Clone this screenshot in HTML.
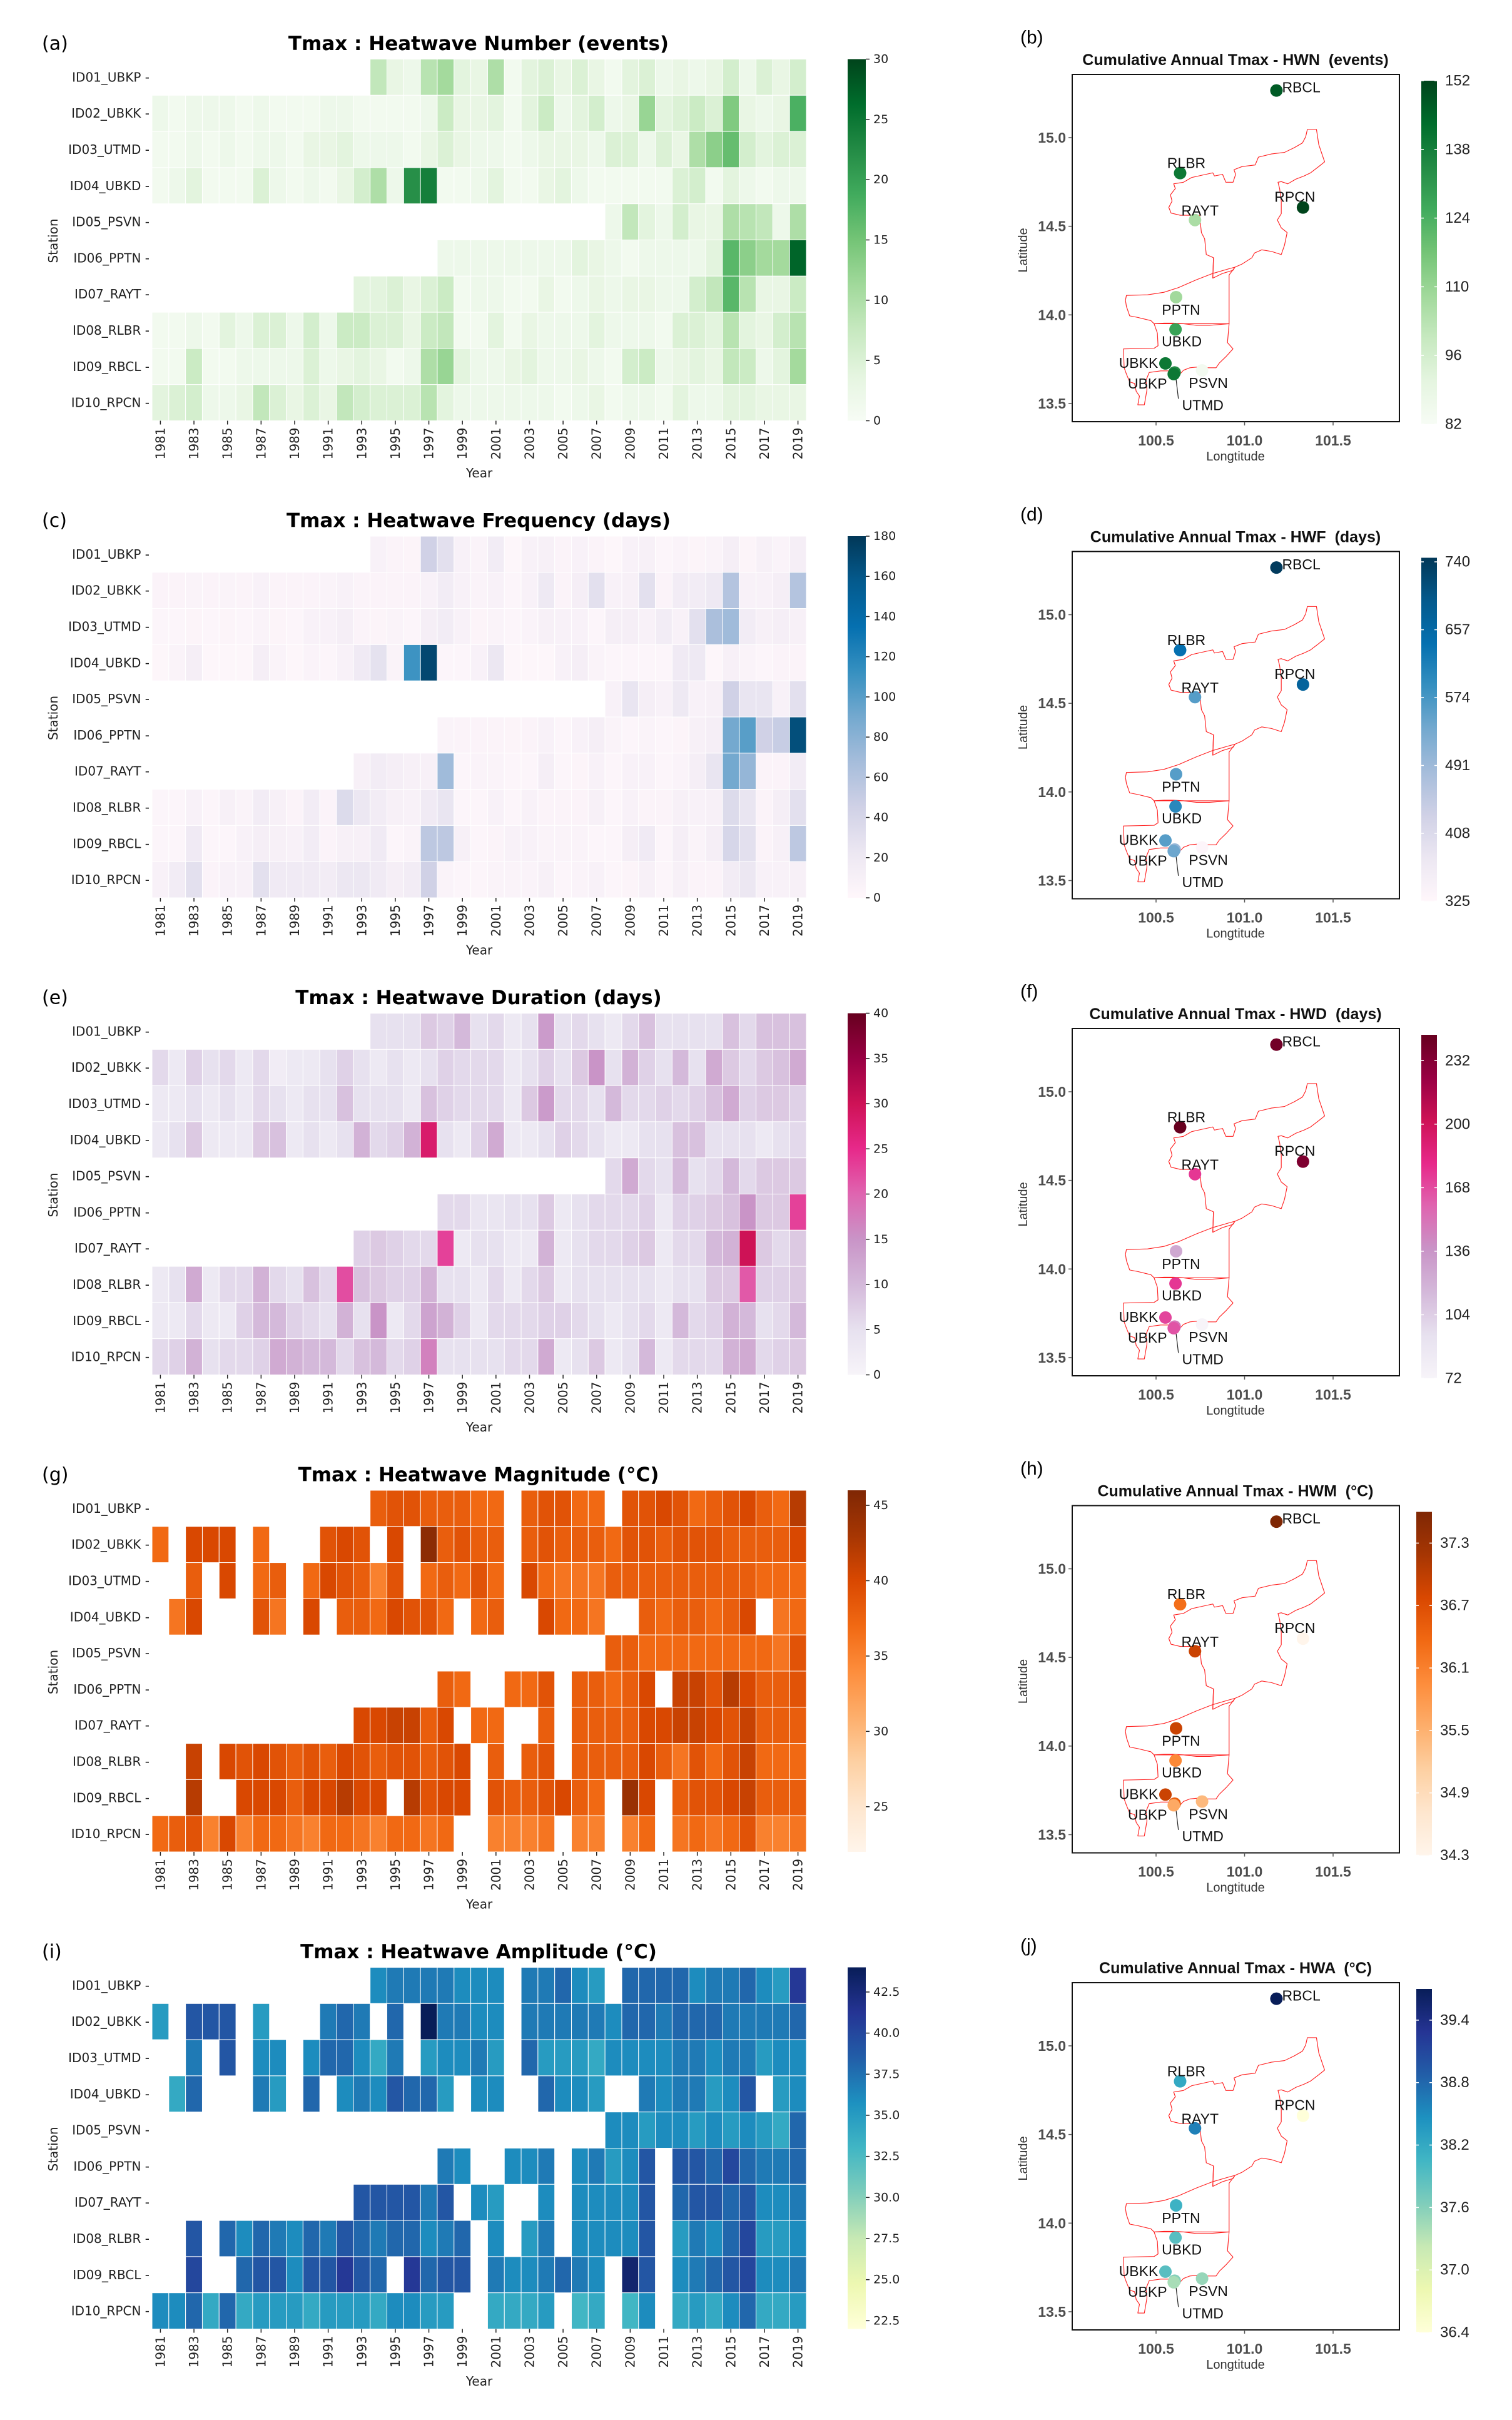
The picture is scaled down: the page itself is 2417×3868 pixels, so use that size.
<!DOCTYPE html>
<html><head><meta charset="utf-8"><title>Tmax heatwave indices</title>
<style>
html,body{margin:0;padding:0;background:#fff;}
svg{display:block;}
.dj{font-family:"DejaVu Sans","Liberation Sans",sans-serif;}
.ar{font-family:"Liberation Sans",Arial,sans-serif;}
.pre{white-space:pre;}
</style></head>
<body>
<svg id="fig" xmlns="http://www.w3.org/2000/svg" width="2417" height="3868" viewBox="0 0 2417 3868">
<defs id="defs"></defs>
</svg>
<script>
const n = null;
const years = [1981,1982,1983,1984,1985,1986,1987,1988,1989,1990,1991,1992,1993,1994,1995,1996,1997,1998,1999,2000,2001,2002,2003,2004,2005,2006,2007,2008,2009,2010,2011,2012,2013,2014,2015,2016,2017,2018,2019];
const stations = ['ID01_UBKP','ID02_UBKK','ID03_UTMD','ID04_UBKD','ID05_PSVN','ID06_PPTN','ID07_RAYT','ID08_RLBR','ID09_RBCL','ID10_RPCN'];
const N13=[n,n,n,n,n,n,n,n,n,n,n,n,n];
const N12=[n,n,n,n,n,n,n,n,n,n,n,n];
const N17=[n,n,n,n,n,n,n,n,n,n,n,n,n,n,n,n,n];
const N27=[n,n,n,n,n,n,n,n,n,n,n,n,n,n,n,n,n,n,n,n,n,n,n,n,n,n,n];

// (a) Heatwave Number (events)
const hwnRows = [
 N13.concat([8,3,2,9,11,4,3,10,1,4,5,3,5,3,1,4,5,2,3,2,3,6,2,5,3,6]),
 [2,1,2,2,2,1,2,1,1,1,2,2,1,1,1,1,2,7,3,3,4,1,4,7,2,4,6,2,3,12,4,5,7,5,14,3,2,3,18],
 [1,1,2,1,2,1,2,2,1,3,3,4,2,2,2,1,3,5,3,2,2,1,2,3,3,3,2,5,5,2,5,3,10,13,16,6,4,5,5],
 [1,2,4,1,1,1,5,2,1,2,1,3,6,10,2,22,24,1,1,2,4,1,1,3,4,2,1,1,1,1,1,5,6,1,4,2,1,2,2],
 N27.concat([2,8,4,2,6,3,3,10,9,8,2,10]),
 N17.concat([2,2,2,2,2,2,2,2,4,3,2,1,2,2,2,2,4,17,13,11,11,27]),
 N12.concat([4,4,5,3,5,7,1,2,2,1,1,3,1,2,3,2,3,3,2,2,6,8,17,9,3,3,7]),
 [1,1,2,1,4,2,5,5,2,6,2,7,7,5,5,3,7,8,1,1,4,1,3,2,2,2,4,2,2,2,1,5,5,4,9,4,3,6,9],
 [1,1,7,1,1,2,2,2,2,5,2,3,4,3,1,2,10,12,4,2,2,3,4,2,2,3,2,1,6,7,2,3,4,3,8,7,2,4,11],
 [4,5,6,2,2,3,8,5,3,5,3,8,6,5,5,5,9,4,2,2,2,2,2,2,1,2,3,1,2,2,1,4,2,2,4,4,3,3,3]
];
// (c) Heatwave Frequency (days)
const hwfRows = [
 N13.concat([8,5,4,45,30,8,6,15,2,8,10,5,8,5,2,8,10,3,6,4,6,12,4,10,6,12]),
 [5,5,6,5,6,5,8,5,5,5,6,8,5,5,5,5,8,15,8,6,8,3,8,20,5,12,30,8,10,30,5,15,15,20,60,8,8,12,60],
 [3,3,4,3,4,3,6,4,3,8,8,12,5,4,6,3,12,15,8,4,6,3,6,10,8,8,3,12,12,8,15,8,30,65,70,15,10,12,10],
 [2,6,12,2,2,2,12,6,2,6,3,8,18,28,6,110,170,3,3,8,22,2,2,2,8,12,6,3,3,3,3,18,20,2,10,6,3,5,5],
 N27.concat([8,25,12,8,20,8,10,45,25,25,8,30]),
 N17.concat([6,5,5,5,4,5,8,3,8,12,6,3,6,3,4,10,12,90,100,45,50,165]),
 N12.concat([10,15,12,10,10,70,3,6,6,3,3,12,3,4,8,3,8,8,3,6,12,25,90,75,5,5,15]),
 [3,3,8,3,10,6,15,10,5,15,5,35,22,15,10,8,18,25,3,3,8,3,8,5,5,5,10,3,8,5,5,10,8,10,35,25,5,12,30],
 [3,3,18,3,3,8,12,10,8,15,5,10,10,18,3,6,55,55,10,3,5,8,8,6,6,6,3,3,12,18,3,12,6,12,40,30,5,10,55],
 [8,15,30,5,8,8,30,18,18,18,15,22,22,18,12,15,45,6,3,3,6,6,6,10,3,6,8,3,4,10,3,10,5,5,15,22,8,8,10]
];
// (e) Heatwave Duration (days)
const hwdRows = [
 N13.concat([5,5,5,8,7,10,5,6,3,5,14,5,6,5,3,6,9,5,5,5,5,9,6,9,9,9]),
 [6,3,7,5,6,3,6,2,3,3,5,7,5,3,5,3,5,7,6,6,6,3,5,7,5,8,15,5,11,7,5,10,5,12,8,6,8,9,12],
 [3,3,5,3,5,3,6,5,3,5,5,9,5,5,5,3,9,7,6,6,6,3,8,14,6,6,5,10,6,6,7,6,7,9,12,7,8,8,7],
 [3,5,8,3,3,3,8,9,3,5,3,5,11,6,7,11,28,5,3,7,12,3,3,5,7,6,5,3,3,5,5,9,9,5,5,5,3,5,6],
 N27.concat([6,12,6,5,10,5,6,10,6,8,8,8]),
 N17.concat([6,6,4,4,5,5,8,3,5,6,6,6,7,3,7,7,8,9,15,8,8,23]),
 N12.concat([7,8,7,6,6,23,3,5,5,3,3,11,3,5,6,6,7,8,3,6,6,10,11,30,8,6,8]),
 [3,5,12,3,6,6,11,6,5,9,6,22,9,8,7,7,11,5,5,3,6,3,6,8,3,5,5,5,5,5,3,5,5,8,8,21,7,7,8],
 [3,3,6,3,3,7,10,10,7,6,5,11,5,15,3,6,13,11,7,3,6,6,6,7,7,6,5,3,5,6,3,10,6,7,11,10,5,6,10],
 [6,7,11,5,6,6,7,12,11,10,10,6,9,10,6,7,17,5,5,5,5,6,6,12,3,5,8,3,5,10,3,6,6,6,11,12,6,7,8]
];
// (g) Heatwave Magnitude (°C)
const hwmRows = [
 N13.concat([38,39,39,38,38,38,37,37,n,38,39,39,37,37,n,39,39,40,39,37,38,39,40,38,37,42]),
 [37,n,40,40,40,n,37,n,n,n,39,40,39,n,40,n,45,38,39,38,38,n,38,39,38,38,38,37,39,39,38,39,39,39,38,38,38,38,40],
 [n,n,38,n,40,n,37,38,n,37,40,39,38,35,39,n,37,38,37,39,37,n,40,37,36,36,36,38,38,38,38,38,38,38,38,38,37,37,37],
 [n,36,40,n,n,n,39,36,n,40,n,38,38,37,40,39,39,37,n,37,38,n,n,40,37,37,36,n,n,38,37,38,38,37,38,40,n,36,37],
 N27.concat([38,38,37,37,37,37,37,37,37,37,36,39]),
 N17.concat([38,37,n,n,37,37,39,n,38,38,37,38,40,n,41,41,39,42,40,38,38,39]),
 N12.concat([40,40,41,41,38,40,n,37,37,n,n,38,n,38,38,38,38,40,40,41,41,40,39,41,38,38,38]),
 [n,n,41,n,40,39,40,39,38,39,38,40,39,38,39,39,38,39,40,n,38,n,38,39,n,38,38,38,38,40,38,36,39,37,39,41,37,37,37],
 [n,n,42,n,n,40,40,40,38,40,40,42,40,40,n,42,39,40,40,n,39,38,38,39,40,38,37,n,44,40,n,38,39,39,40,41,38,38,38],
 [37,38,39,35,40,35,37,37,36,35,37,37,36,35,37,37,36,37,n,n,35,35,35,36,n,35,35,n,35,37,n,36,37,36,37,39,35,35,36]
];
// (i) Heatwave Amplitude (°C)
const hwaRows = [
 N13.concat([36,37,37,37,37,36,36,36,n,37,37,38,36,35,n,38,38,38,38,36,37,37,38,36,35,41]),
 [35,n,39,39,39,n,35,n,n,n,37,38,37,n,38,n,44,37,37,36,36,n,37,37,37,37,37,36,38,38,37,38,38,38,37,37,37,37,38],
 [n,n,37,n,39,n,36,36,n,36,38,38,36,34,37,n,35,36,36,37,35,n,38,35,35,35,34,36,36,36,36,37,37,36,37,37,35,36,36],
 [n,34,38,n,n,n,37,35,n,38,n,36,37,36,39,38,38,35,n,36,36,n,n,38,36,36,35,n,n,37,36,37,37,35,36,39,n,35,36],
 N27.concat([36,36,35,36,36,35,36,35,36,35,34,38]),
 N17.concat([37,36,n,n,36,36,37,n,36,37,35,36,39,n,39,39,38,40,38,37,37,38]),
 N12.concat([39,39,39,39,37,39,n,36,35,n,n,36,n,36,36,36,36,39,n,38,39,39,38,39,36,36,37]),
 [n,n,39,n,38,36,38,37,36,38,37,39,38,37,38,38,36,37,38,n,36,n,35,37,n,36,36,36,36,39,n,35,37,36,38,40,35,35,36],
 [n,n,40,n,n,38,39,39,36,39,39,41,39,38,n,41,38,39,39,n,37,36,36,37,38,37,36,n,43,39,n,36,37,38,39,40,36,36,37],
 [36,36,38,34,38,34,35,35,35,34,35,35,35,34,36,36,35,35,n,n,34,34,34,35,n,33,34,n,33,36,n,34,35,34,36,38,34,34,35]
];
const ticksA = [0,5,10,15,20,25,30];
const ticksC = [0,20,40,60,80,100,120,140,160,180];
const ticksE = [0,5,10,15,20,25,30,35,40];
const ticksG = [25,30,35,40,45];
const ticksI = [22.5,25.0,27.5,30.0,32.5,35.0,37.5,40.0,42.5];

// Maps
const mapStations = ['UTMD','RBCL','RLBR','RPCN','RAYT','PPTN','UBKD','UBKK','PSVN','UBKP'];
const mapLon = [100.605,101.18,100.636,101.33,100.72,100.613,100.61,100.553,100.76,100.60];
const mapLat = [13.675,15.266,14.80,14.606,14.535,14.10,13.918,13.726,13.687,13.666];
const mapHWN = [135,147,140,152,106,108,128,140,84,140];
const mapHWF = [500,740,640,670,560,560,600,560,330,540];
const mapHWD = [150,240,245,235,175,125,175,170,72,165];
const mapHWM = [36.5,37.6,36.3,34.3,36.9,36.9,36.0,36.9,35.4,35.6];
const mapHWA = [37.6,39.7,38.2,36.4,38.6,38.1,37.9,37.9,37.5,37.4];
const mtickB = [82,96,110,124,138,152];
const mtickD = [325,408,491,574,657,740];
const mtickF = [72,104,136,168,200,232];
const mtickH = [34.3,34.9,35.5,36.1,36.7,37.3];
const mtickJ = [36.4,37.0,37.6,38.2,38.8,39.4];
const latTicks = [13.5,14.0,14.5,15.0];
const lonTicks = [100.5,101.0,101.5];

const CM = {
 Greens:['#f7fcf5','#e5f5e0','#c7e9c0','#a1d99b','#74c476','#41ab5d','#238b45','#006d2c','#00441b'],
 PuBu:['#fff7fb','#ece7f2','#d0d1e6','#a6bddb','#74a9cf','#3690c0','#0570b0','#045a8d','#023858'],
 PuRd:['#f7f4f9','#e7e1ef','#d4b9da','#c994c7','#df65b0','#e7298a','#ce1256','#980043','#67001f'],
 Oranges:['#fff5eb','#fee6ce','#fdd0a2','#fdae6b','#fd8d3c','#f16913','#d94801','#a63603','#7f2704'],
 YlGnBu:['#ffffd9','#edf8b1','#c7e9b4','#7fcdbb','#41b6c4','#1d91c0','#225ea8','#253494','#081d58']
};
function hex(h){return [parseInt(h.substr(1,2),16),parseInt(h.substr(3,2),16),parseInt(h.substr(5,2),16)];}
function cmap(name,t){
 const s=CM[name]; t=Math.max(0,Math.min(1,t));
 const p=t*(s.length-1), i=Math.min(s.length-2,Math.floor(p)), f=p-i;
 const a=hex(s[i]), b=hex(s[i+1]);
 return 'rgb('+a.map((v,k)=>Math.round(v+(b[k]-v)*f)).join(',')+')';
}
function fmtTicks(ticks){
 const dec=ticks.some(t=>!Number.isInteger(t));
 return ticks.map(t=>dec?t.toFixed(1):String(t));
}
const NS='http://www.w3.org/2000/svg';
const svg=document.getElementById('fig');
const defs=document.getElementById('defs');
function mk(tag,attrs,parent){
 const e=document.createElementNS(NS,tag);
 for(const k in attrs) e.setAttribute(k,attrs[k]);
 (parent||svg).appendChild(e); return e;
}
function txt(s,attrs,parent){const e=mk('text',attrs,parent); e.textContent=s; return e;}
function gradient(id,name){
 const g=mk('linearGradient',{id:id,x1:'0',y1:'1',x2:'0',y2:'0'},defs);
 CM[name].forEach((c,i)=>mk('stop',{offset:(i/(CM[name].length-1)),'stop-color':c},g));
}

const PERIOD=762.5, X0=243, X1=1289, TOP=94.5, ROWH=57.8;
function drawHeatmap(k,rows,cm,vmin,vmax,ticks,title,letter,name){
 const off=k*PERIOD;
 const g=mk('g',{});
 
 
 const cw=(X1-X0)/years.length;
 const xAt=c=>X0+c*cw;
 const yAt=r=>off+TOP+r*ROWH;
 const cv=v=>(v-vmin)/(vmax-vmin);
 const lt=txt(letter,{x:67,y:off+70,'font-size':30,'dominant-baseline':'central',class:'dj',fill:'#000'},g);
 
 
 const tt=txt(title,{x:765,y:off+70,'font-size':31,'font-weight':'bold','text-anchor':'middle','dominant-baseline':'central',class:'dj',fill:'#000'},g);
 
 
 rows.forEach((row,r)=>{
  row.forEach((v,c)=>{
   if(v===null) return;
   const rc=mk('rect',{x:xAt(c),y:yAt(r),width:cw,height:ROWH,fill:cmap(cm,cv(v)),stroke:'#fff','stroke-width':1},g);
   
   
  });
  const yl=txt(stations[r]+' -',{x:X0-4,y:yAt(r)+ROWH/2,'font-size':20,'text-anchor':'end','dominant-baseline':'central',class:'dj',fill:'#222'},g);
  
  
 });
 const bottom=off+TOP+ROWH*stations.length;
 years.forEach((y,c)=>{
  if(c%2) return;
  const cx=xAt(c)+cw/2;
  mk('line',{x1:cx,y1:bottom,x2:cx,y2:bottom+6,stroke:'#222','stroke-width':1.5},g);
  const xl=txt(String(y),{x:0,y:0,'font-size':20,'text-anchor':'end','dominant-baseline':'central',class:'dj',fill:'#222',transform:'translate('+cx+','+(bottom+11)+') rotate(-90)'},g);
  
  
 });
 const xt=txt('Year',{x:766,y:off+756,'font-size':20,'text-anchor':'middle','dominant-baseline':'central',class:'dj',fill:'#222'},g);
 
 
 const yt=txt('Station',{x:0,y:0,'font-size':20,'text-anchor':'middle','dominant-baseline':'central',class:'dj',fill:'#222',transform:'translate(85,'+(off+385)+') rotate(-90)'},g);
 
 
 const gid='hg'+k; gradient(gid,cm);
 const ctop=off+TOP, ch=ROWH*stations.length;
 const cb=mk('rect',{x:1355,y:ctop,width:29,height:ch,fill:'url(#'+gid+')'},g);
 
 
 const labs=fmtTicks(ticks);
 ticks.forEach((t,i)=>{
  const ty=ctop+ch-cv(t)*ch;
  mk('line',{x1:1384,y1:ty,x2:1390,y2:ty,stroke:'#222','stroke-width':1.5},g);
  const tl=txt(labs[i],{x:1396,y:ty,'font-size':19,'dominant-baseline':'central',class:'dj',fill:'#222'},g);
  
  
 });
}

const OUT_N='940,352 968,352 975,400 993,455 975,470 950,490 930,500 905,510 880,525 860,518 850,520 855,540 860,580 860,620 848,640 860,665 878,680 870,720 860,750 830,740 800,735 778,745 770,760 740,780 718,790 712,800 680,810 650,825 652,760 630,750 625,700 615,680 612,650 610,625 580,625 550,625 522,618 515,600 525,580 520,560 535,540 530,525 560,520 585,505 615,498 650,490 655,500 680,495 690,520 712,520 720,495 715,480 740,470 780,465 790,440 830,430 870,425 900,410 925,395 935,375';
const OUT_M='385,880 450,878 500,870 545,855 600,830 650,810 700,795 718,790 700,815 700,970 640,975 600,975 560,970 530,968 500,968 470,970 460,960 420,950 395,945 385,915 382,895';
const OUT_S='470,970 700,970 695,1030 712,1050 690,1075 670,1095 660,1110 635,1110 600,1108 580,1110 560,1118 545,1135 530,1135 520,1120 490,1120 455,1125 445,1150 448,1180 440,1228 420,1228 425,1200 415,1185 410,1160 395,1155 385,1130 378,1110 376,1050 470,1048 482,1040 480,1000';
const LBL={RBCL:[9,-5,'start'],RLBR:[10,-16,'middle'],RAYT:[8,-15,'middle'],RPCN:[-13,-17,'middle'],PPTN:[8,20,'middle'],UBKD:[10,19,'middle'],UBKK:[-43,-1,'middle'],UBKP:[-42,15,'middle'],PSVN:[10,20,'middle'],UTMD:[45,52,'middle']};

function drawMap(k,vals,cm,vmin,vmax,ticks,title,letter,cbx,name){
 const off=k*PERIOD;
 const g=mk('g',{});
 
 
 const lonX=lon=>1848+(lon-100.5)*283;
 const latY=lat=>off+220-(lat-15)*283.3;
 const cv=v=>(v-vmin)/(vmax-vmin);
 const lt=txt(letter,{x:1631,y:off+60,'font-size':30,'dominant-baseline':'central',class:'ar',fill:'#000'},g);
 
 
 const tt=txt(title,{x:1975,y:off+96,'font-size':25,'font-weight':'bold','text-anchor':'middle','dominant-baseline':'central',class:'ar pre',fill:'#111'},g);
 
 
 const box=mk('rect',{x:1714,y:off+119,width:523,height:555,fill:'#fff',stroke:'#111','stroke-width':2},g);
 
 
 const og=mk('g',{transform:'translate(1600,'+(off+30)+') scale('+(1/1.919)+','+(1/1.99)+')'},g);
 
 
 [OUT_N,OUT_M,OUT_S].forEach(p=>mk('polygon',{points:p,fill:'none',stroke:'#ff2020','stroke-width':2.2,'stroke-linejoin':'round'},og));
 mk('polyline',{points:'652,760 650,825',fill:'none',stroke:'#ff2020','stroke-width':2.2},og);
 latTicks.forEach(t=>{
  const y=latY(t);
  mk('line',{x1:1708,y1:y,x2:1714,y2:y,stroke:'#555','stroke-width':1.5},g);
  const l=txt(t.toFixed(1),{x:1704,y:y,'font-size':23,'font-weight':'bold','text-anchor':'end','dominant-baseline':'central',class:'ar',fill:'#4d4d4d'},g);
  
  
 });
 lonTicks.forEach(t=>{
  const x=lonX(t);
  mk('line',{x1:x,y1:off+674,x2:x,y2:off+680,stroke:'#555','stroke-width':1.5},g);
  const l=txt(t.toFixed(1),{x:x,y:off+704,'font-size':23,'font-weight':'bold','text-anchor':'middle','dominant-baseline':'central',class:'ar',fill:'#4d4d4d'},g);
  
  
 });
 const xl=txt('Longtitude',{x:1975,y:off+730,'font-size':20,'text-anchor':'middle','dominant-baseline':'central',class:'ar',fill:'#333'},g);
 
 
 const yl=txt('Latitude',{x:0,y:0,'font-size':20,'text-anchor':'middle','dominant-baseline':'central',class:'ar',fill:'#333',transform:'translate(1636,'+(off+400)+') rotate(-90)'},g);
 
 
 mapStations.forEach((s,i)=>{
  const x=lonX(mapLon[i]), y=latY(mapLat[i]);
  const c=mk('circle',{cx:x,cy:y,r:10,fill:cmap(cm,cv(vals[i]))},g);
  
  
  const o=LBL[s];
  if(s==='UTMD') mk('line',{x1:x+2,y1:y+8,x2:x+6,y2:y+42,stroke:'#222','stroke-width':1.2},g);
  const l=txt(s,{x:x+o[0],y:y+o[1],'font-size':23,'text-anchor':o[2],'dominant-baseline':'central',class:'ar',fill:'#111'},g);
  
  
 });
 const gid='mg'+k; gradient(gid,cm);
 const ctop=off+129, ch=549;
 const cb=mk('rect',{x:cbx,y:ctop,width:25,height:ch,fill:'url(#'+gid+')'},g);
 
 
 const labs=fmtTicks(ticks);
 ticks.forEach((t,i)=>{
  const ty=ctop+ch-cv(t)*ch;
  mk('line',{x1:cbx,y1:ty,x2:cbx+4,y2:ty,stroke:'#fff','stroke-width':1.5},g);
  mk('line',{x1:cbx+21,y1:ty,x2:cbx+25,y2:ty,stroke:'#fff','stroke-width':1.5},g);
  const tl=txt(labs[i],{x:cbx+38,y:ty,'font-size':24,'dominant-baseline':'central',class:'ar',fill:'#222'},g);
  
  
 });
}

drawHeatmap(0,hwnRows,'Greens',0,30,ticksA,'Tmax : Heatwave Number (events)','(a)','hwn');
drawHeatmap(1,hwfRows,'PuBu',0,180,ticksC,'Tmax : Heatwave Frequency (days)','(c)','hwf');
drawHeatmap(2,hwdRows,'PuRd',0,40,ticksE,'Tmax : Heatwave Duration (days)','(e)','hwd');
drawHeatmap(3,hwmRows,'Oranges',22,46,ticksG,'Tmax : Heatwave Magnitude (°C)','(g)','hwm');
drawHeatmap(4,hwaRows,'YlGnBu',22,44,ticksI,'Tmax : Heatwave Amplitude (°C)','(i)','hwa');

drawMap(0,mapHWN,'Greens',82,152,mtickB,'Cumulative Annual Tmax - HWN  (events)','(b)',2272,'hwn');
drawMap(1,mapHWF,'PuBu',325,745,mtickD,'Cumulative Annual Tmax - HWF  (days)','(d)',2272,'hwf');
drawMap(2,mapHWD,'PuRd',72,245,mtickF,'Cumulative Annual Tmax - HWD  (days)','(f)',2272,'hwd');
drawMap(3,mapHWM,'Oranges',34.3,37.6,mtickH,'Cumulative Annual Tmax - HWM  (°C)','(h)',2264,'hwm');
drawMap(4,mapHWA,'YlGnBu',36.4,39.7,mtickJ,'Cumulative Annual Tmax - HWA  (°C)','(j)',2264,'hwa');
</script>
</body></html>
